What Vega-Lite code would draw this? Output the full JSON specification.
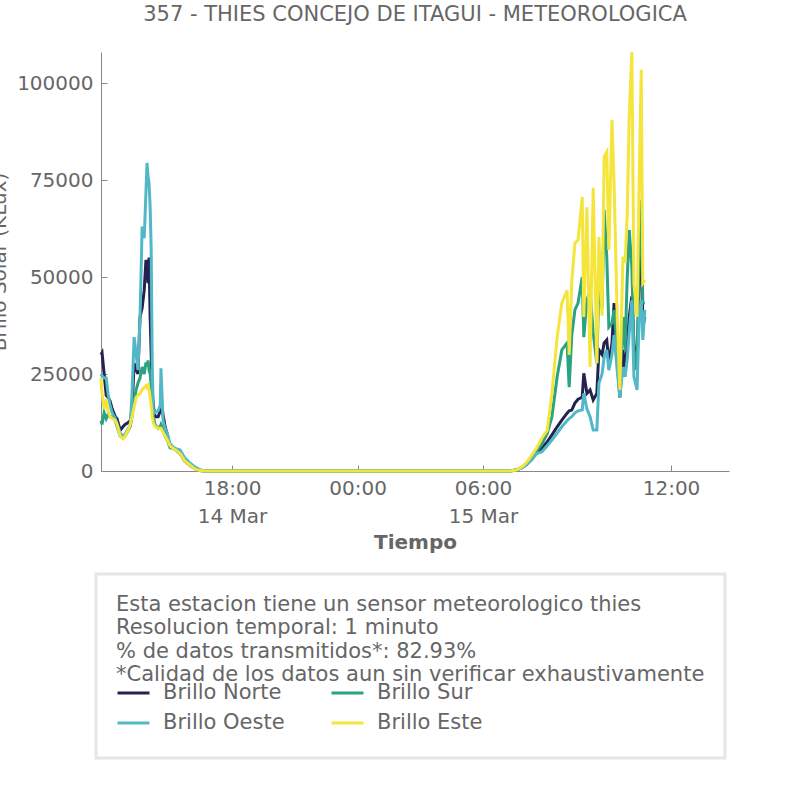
{
  "$schema": "https://vega.github.io/schema/vega-lite/v6.json",
  "width": 628,
  "height": 419,
  "autosize": {"type": "none"},
  "padding": {"left": 101, "top": 52, "right": 77, "bottom": 335},
  "background": "white",
  "title": {
    "text": "357 - THIES CONCEJO DE ITAGUI - METEOROLOGICA",
    "anchor": "middle",
    "baseline": "middle",
    "offset": 10,
    "font": "DejaVu Sans",
    "fontSize": 21,
    "fontWeight": "normal",
    "color": "#666666"
  },
  "data": {
    "format": {"parse": {"t": "utc:'%Y-%m-%dT%H:%M'"}},
    "values": [
      {"t": "2024-03-14T11:44", "Brillo Norte": 30000, "Brillo Sur": 13000, "Brillo Oeste": 25000, "Brillo Este": 24000},
      {"t": "2024-03-14T11:47", "Brillo Norte": 30500, "Brillo Sur": 12000, "Brillo Oeste": 24500, "Brillo Este": 20000},
      {"t": "2024-03-14T11:53", "Brillo Norte": 25000, "Brillo Sur": 15000, "Brillo Oeste": 24000, "Brillo Este": 16000},
      {"t": "2024-03-14T11:59", "Brillo Norte": 19500, "Brillo Sur": 13500, "Brillo Oeste": 24000, "Brillo Este": 18500},
      {"t": "2024-03-14T12:04", "Brillo Norte": 19000, "Brillo Sur": 14500, "Brillo Oeste": 20000, "Brillo Este": 15500},
      {"t": "2024-03-14T12:10", "Brillo Norte": 18000, "Brillo Sur": 14000, "Brillo Oeste": 17000, "Brillo Este": 14000},
      {"t": "2024-03-14T12:16", "Brillo Norte": 16000, "Brillo Sur": 14000, "Brillo Oeste": 15000, "Brillo Este": 13500},
      {"t": "2024-03-14T12:25", "Brillo Norte": 14000, "Brillo Sur": 13000, "Brillo Oeste": 13500, "Brillo Este": 13000},
      {"t": "2024-03-14T12:30", "Brillo Norte": 13500, "Brillo Sur": 11500, "Brillo Oeste": 12300, "Brillo Este": 12000},
      {"t": "2024-03-14T12:39", "Brillo Norte": 10500, "Brillo Sur": 9000, "Brillo Oeste": 9800, "Brillo Este": 9000},
      {"t": "2024-03-14T12:47", "Brillo Norte": 11400, "Brillo Sur": 8500, "Brillo Oeste": 9000, "Brillo Este": 8300},
      {"t": "2024-03-14T12:53", "Brillo Norte": 12000, "Brillo Sur": 9000, "Brillo Oeste": 9500, "Brillo Este": 9000},
      {"t": "2024-03-14T12:59", "Brillo Norte": 12300, "Brillo Sur": 10000, "Brillo Oeste": 10500, "Brillo Este": 10000},
      {"t": "2024-03-14T13:08", "Brillo Norte": 13000, "Brillo Sur": 11500, "Brillo Oeste": 12000, "Brillo Este": 12000},
      {"t": "2024-03-14T13:13", "Brillo Norte": 15700, "Brillo Sur": 14000, "Brillo Oeste": 20000, "Brillo Este": 14000},
      {"t": "2024-03-14T13:19", "Brillo Norte": 27800, "Brillo Sur": 18000, "Brillo Oeste": 34500, "Brillo Este": 16500},
      {"t": "2024-03-14T13:25", "Brillo Norte": 26000, "Brillo Sur": 21000, "Brillo Oeste": 30000, "Brillo Este": 19000},
      {"t": "2024-03-14T13:30", "Brillo Norte": 25000, "Brillo Sur": 22600, "Brillo Oeste": 26000, "Brillo Este": 19500},
      {"t": "2024-03-14T13:36", "Brillo Norte": 39700, "Brillo Sur": 24000, "Brillo Oeste": 39700, "Brillo Este": 20000},
      {"t": "2024-03-14T13:42", "Brillo Norte": 42000, "Brillo Sur": 26800, "Brillo Oeste": 63000, "Brillo Este": 21000},
      {"t": "2024-03-14T13:48", "Brillo Norte": 46600, "Brillo Sur": 25000, "Brillo Oeste": 60000, "Brillo Este": 21500},
      {"t": "2024-03-14T13:53", "Brillo Norte": 54400, "Brillo Sur": 28000, "Brillo Oeste": 72000, "Brillo Este": 22000},
      {"t": "2024-03-14T13:56", "Brillo Norte": 52000, "Brillo Sur": 27000, "Brillo Oeste": 79400, "Brillo Este": 21500},
      {"t": "2024-03-14T13:59", "Brillo Norte": 48400, "Brillo Sur": 28500, "Brillo Oeste": 76000, "Brillo Este": 22000},
      {"t": "2024-03-14T14:02", "Brillo Norte": 55000, "Brillo Sur": 26000, "Brillo Oeste": 74000, "Brillo Este": 21000},
      {"t": "2024-03-14T14:05", "Brillo Norte": 39700, "Brillo Sur": 25000, "Brillo Oeste": 68000, "Brillo Este": 19000},
      {"t": "2024-03-14T14:08", "Brillo Norte": 30000, "Brillo Sur": 22000, "Brillo Oeste": 57000, "Brillo Este": 17000},
      {"t": "2024-03-14T14:11", "Brillo Norte": 20900, "Brillo Sur": 18000, "Brillo Oeste": 27000, "Brillo Este": 14000},
      {"t": "2024-03-14T14:14", "Brillo Norte": 17000, "Brillo Sur": 14000, "Brillo Oeste": 15700, "Brillo Este": 12500},
      {"t": "2024-03-14T14:19", "Brillo Norte": 14000, "Brillo Sur": 12000, "Brillo Oeste": 15000, "Brillo Este": 11500},
      {"t": "2024-03-14T14:28", "Brillo Norte": 14000, "Brillo Sur": 11000, "Brillo Oeste": 15500, "Brillo Este": 11000},
      {"t": "2024-03-14T14:34", "Brillo Norte": 15500, "Brillo Sur": 11500, "Brillo Oeste": 17000, "Brillo Este": 11000},
      {"t": "2024-03-14T14:36", "Brillo Norte": 16500, "Brillo Sur": 12000, "Brillo Oeste": 26500, "Brillo Este": 11000},
      {"t": "2024-03-14T14:39", "Brillo Norte": 16500, "Brillo Sur": 11500, "Brillo Oeste": 20000, "Brillo Este": 10500},
      {"t": "2024-03-14T14:42", "Brillo Norte": 14500, "Brillo Sur": 10500, "Brillo Oeste": 13000, "Brillo Este": 10000},
      {"t": "2024-03-14T14:48", "Brillo Norte": 11400, "Brillo Sur": 9000, "Brillo Oeste": 11000, "Brillo Este": 9000},
      {"t": "2024-03-14T14:54", "Brillo Norte": 9500, "Brillo Sur": 8000, "Brillo Oeste": 9800, "Brillo Este": 8000},
      {"t": "2024-03-14T15:02", "Brillo Norte": 6500, "Brillo Sur": 6000, "Brillo Oeste": 7000, "Brillo Este": 6500},
      {"t": "2024-03-14T15:11", "Brillo Norte": 5800, "Brillo Sur": 5800, "Brillo Oeste": 6200, "Brillo Este": 5800},
      {"t": "2024-03-14T15:17", "Brillo Norte": 5600, "Brillo Sur": 5500, "Brillo Oeste": 5800, "Brillo Este": 5500},
      {"t": "2024-03-14T15:31", "Brillo Norte": 4500, "Brillo Sur": 4500, "Brillo Oeste": 5400, "Brillo Este": 4500},
      {"t": "2024-03-14T15:45", "Brillo Norte": 2500, "Brillo Sur": 2500, "Brillo Oeste": 3300, "Brillo Este": 2500},
      {"t": "2024-03-14T16:00", "Brillo Norte": 1500, "Brillo Sur": 1500, "Brillo Oeste": 2000, "Brillo Este": 1500},
      {"t": "2024-03-14T16:14", "Brillo Norte": 600, "Brillo Sur": 600, "Brillo Oeste": 1000, "Brillo Este": 500},
      {"t": "2024-03-14T16:28", "Brillo Norte": 150, "Brillo Sur": 150, "Brillo Oeste": 300, "Brillo Este": 100},
      {"t": "2024-03-14T16:43", "Brillo Norte": 0, "Brillo Sur": 0, "Brillo Oeste": 0, "Brillo Este": 0},
      {"t": "2024-03-14T21:15", "Brillo Norte": 0, "Brillo Sur": 0, "Brillo Oeste": 0, "Brillo Este": 0},
      {"t": "2024-03-15T02:02", "Brillo Norte": 0, "Brillo Sur": 0, "Brillo Oeste": 0, "Brillo Este": 0},
      {"t": "2024-03-15T06:00", "Brillo Norte": 0, "Brillo Sur": 0, "Brillo Oeste": 0, "Brillo Este": 0},
      {"t": "2024-03-15T06:52", "Brillo Norte": 0, "Brillo Sur": 0, "Brillo Oeste": 0, "Brillo Este": 0},
      {"t": "2024-03-15T07:05", "Brillo Norte": 300, "Brillo Sur": 300, "Brillo Oeste": 300, "Brillo Este": 300},
      {"t": "2024-03-15T07:15", "Brillo Norte": 900, "Brillo Sur": 1000, "Brillo Oeste": 800, "Brillo Este": 1100},
      {"t": "2024-03-15T07:24", "Brillo Norte": 1800, "Brillo Sur": 2000, "Brillo Oeste": 1700, "Brillo Este": 2300},
      {"t": "2024-03-15T07:34", "Brillo Norte": 3200, "Brillo Sur": 3500, "Brillo Oeste": 3000, "Brillo Este": 4200},
      {"t": "2024-03-15T07:43", "Brillo Norte": 4800, "Brillo Sur": 5200, "Brillo Oeste": 4500, "Brillo Este": 6000},
      {"t": "2024-03-15T07:53", "Brillo Norte": 6000, "Brillo Sur": 7000, "Brillo Oeste": 5000, "Brillo Este": 8500},
      {"t": "2024-03-15T08:03", "Brillo Norte": 7500, "Brillo Sur": 9700, "Brillo Oeste": 6500, "Brillo Este": 10500},
      {"t": "2024-03-15T08:12", "Brillo Norte": 9300, "Brillo Sur": 14000, "Brillo Oeste": 8000, "Brillo Este": 20000},
      {"t": "2024-03-15T08:22", "Brillo Norte": 11400, "Brillo Sur": 24300, "Brillo Oeste": 9800, "Brillo Este": 34500},
      {"t": "2024-03-15T08:31", "Brillo Norte": 13100, "Brillo Sur": 31200, "Brillo Oeste": 11400, "Brillo Este": 43300},
      {"t": "2024-03-15T08:41", "Brillo Norte": 14900, "Brillo Sur": 33000, "Brillo Oeste": 13000, "Brillo Este": 46600},
      {"t": "2024-03-15T08:45", "Brillo Norte": 15500, "Brillo Sur": 21600, "Brillo Oeste": 13500, "Brillo Este": 30000},
      {"t": "2024-03-15T08:50", "Brillo Norte": 15700, "Brillo Sur": 35000, "Brillo Oeste": 14000, "Brillo Este": 49000},
      {"t": "2024-03-15T08:56", "Brillo Norte": 17500, "Brillo Sur": 41500, "Brillo Oeste": 15000, "Brillo Este": 58700},
      {"t": "2024-03-15T09:02", "Brillo Norte": 18500, "Brillo Sur": 43300, "Brillo Oeste": 15500, "Brillo Este": 59500},
      {"t": "2024-03-15T09:10", "Brillo Norte": 19000, "Brillo Sur": 50000, "Brillo Oeste": 15700, "Brillo Este": 70600},
      {"t": "2024-03-15T09:13", "Brillo Norte": 25200, "Brillo Sur": 34500, "Brillo Oeste": 20000, "Brillo Este": 39700},
      {"t": "2024-03-15T09:19", "Brillo Norte": 20000, "Brillo Sur": 44000, "Brillo Oeste": 16000, "Brillo Este": 68000},
      {"t": "2024-03-15T09:25", "Brillo Norte": 20900, "Brillo Sur": 46600, "Brillo Oeste": 14000, "Brillo Este": 26800},
      {"t": "2024-03-15T09:31", "Brillo Norte": 18300, "Brillo Sur": 35600, "Brillo Oeste": 10600, "Brillo Este": 73000},
      {"t": "2024-03-15T09:38", "Brillo Norte": 20000, "Brillo Sur": 27800, "Brillo Oeste": 10600, "Brillo Este": 27800},
      {"t": "2024-03-15T09:42", "Brillo Norte": 31200, "Brillo Sur": 48400, "Brillo Oeste": 22700, "Brillo Este": 60300},
      {"t": "2024-03-15T09:48", "Brillo Norte": 30000, "Brillo Sur": 42000, "Brillo Oeste": 25000, "Brillo Este": 40000},
      {"t": "2024-03-15T09:52", "Brillo Norte": 33000, "Brillo Sur": 67300, "Brillo Oeste": 29400, "Brillo Este": 81000},
      {"t": "2024-03-15T09:57", "Brillo Norte": 33800, "Brillo Sur": 55200, "Brillo Oeste": 31200, "Brillo Este": 82200},
      {"t": "2024-03-15T10:01", "Brillo Norte": 27800, "Brillo Sur": 37100, "Brillo Oeste": 26000, "Brillo Este": 57000},
      {"t": "2024-03-15T10:07", "Brillo Norte": 33000, "Brillo Sur": 38100, "Brillo Oeste": 30000, "Brillo Este": 90500},
      {"t": "2024-03-15T10:11", "Brillo Norte": 43300, "Brillo Sur": 41500, "Brillo Oeste": 35000, "Brillo Este": 74200},
      {"t": "2024-03-15T10:17", "Brillo Norte": 28600, "Brillo Sur": 31200, "Brillo Oeste": 26000, "Brillo Este": 39700},
      {"t": "2024-03-15T10:22", "Brillo Norte": 19000, "Brillo Sur": 22700, "Brillo Oeste": 19000, "Brillo Este": 20900},
      {"t": "2024-03-15T10:28", "Brillo Norte": 31200, "Brillo Sur": 39700, "Brillo Oeste": 26800, "Brillo Este": 55200},
      {"t": "2024-03-15T10:32", "Brillo Norte": 26000, "Brillo Sur": 31200, "Brillo Oeste": 24300, "Brillo Este": 53600},
      {"t": "2024-03-15T10:36", "Brillo Norte": 32000, "Brillo Sur": 49200, "Brillo Oeste": 28600, "Brillo Este": 65500},
      {"t": "2024-03-15T10:40", "Brillo Norte": 39700, "Brillo Sur": 62100, "Brillo Oeste": 35600, "Brillo Este": 91200},
      {"t": "2024-03-15T10:45", "Brillo Norte": 45000, "Brillo Sur": 52600, "Brillo Oeste": 44000, "Brillo Este": 108000},
      {"t": "2024-03-15T10:49", "Brillo Norte": 33000, "Brillo Sur": 31200, "Brillo Oeste": 24300, "Brillo Este": 48400},
      {"t": "2024-03-15T10:55", "Brillo Norte": 26000, "Brillo Sur": 26000, "Brillo Oeste": 20900, "Brillo Este": 39700},
      {"t": "2024-03-15T10:59", "Brillo Norte": 48400, "Brillo Sur": 57000, "Brillo Oeste": 39700, "Brillo Este": 74200},
      {"t": "2024-03-15T11:03", "Brillo Norte": 69800, "Brillo Sur": 69800, "Brillo Oeste": 44000, "Brillo Este": 103400},
      {"t": "2024-03-15T11:06", "Brillo Norte": 37100, "Brillo Sur": 43300, "Brillo Oeste": 33800, "Brillo Este": 48400},
      {"t": "2024-03-15T11:10", "Brillo Norte": 39700, "Brillo Sur": 43300, "Brillo Oeste": 41500, "Brillo Este": 49200}
    ]
  },
  "transform": [
    {"fold": ["Brillo Norte", "Brillo Sur", "Brillo Oeste", "Brillo Este"], "as": ["serie", "valor"]}
  ],
  "mark": {"type": "line", "strokeWidth": 3},
  "encoding": {
    "x": {
      "field": "t",
      "type": "quantitative",
      "scale": {
        "domain": [1710416640000, 1710482400000, 1710504000000, 1710510660000],
        "range": [0, 382, 570, 628],
        "nice": false,
        "zero": false
      },
      "axis": {
        "values": [1710439200000, 1710460800000, 1710482400000, 1710504000000],
        "labelExpr": "(utchours(datum.value) == 18 || utchours(datum.value) == 6) ? [utcFormat(datum.value, '%H:%M'), utcFormat(datum.value, '%-d %b')] : utcFormat(datum.value, '%H:%M')",
        "labelLineHeight": 28,
        "labelPadding": 13,
        "labelFlush": false,
        "labelOverlap": false,
        "title": "Tiempo",
        "titleFontWeight": "bold",
        "titleBaseline": "middle",
        "titleY": 71
      }
    },
    "y": {
      "field": "valor",
      "type": "quantitative",
      "scale": {"domain": [0, 108000], "nice": false},
      "axis": {
        "values": [0, 25000, 50000, 75000, 100000],
        "format": "d",
        "labelPadding": 14,
        "title": "Brillo Solar (KLux)",
        "titleAngle": -90,
        "titleX": -95.5,
        "titleY": 209.5,
        "titleAlign": "center",
        "titleBaseline": "alphabetic",
        "titleFontWeight": "normal"
      }
    },
    "color": {
      "field": "serie",
      "type": "nominal",
      "scale": {
        "domain": ["Brillo Norte", "Brillo Sur", "Brillo Oeste", "Brillo Este"],
        "range": ["#24234f", "#2aa383", "#52b8c8", "#f5e53a"]
      },
      "legend": {
        "orient": "none",
        "legendX": -5,
        "legendY": 522,
        "direction": "horizontal",
        "columns": 2,
        "title": [
          "Esta estacion tiene un sensor meteorologico thies",
          "Resolucion temporal: 1 minuto",
          "% de datos transmitidos*: 82.93%",
          "*Calidad de los datos aun sin verificar exhaustivamente"
        ]
      }
    }
  },
  "config": {
    "view": {"stroke": null},
    "font": "DejaVu Sans",
    "axis": {
      "domainColor": "#888888",
      "tickColor": "#888888",
      "tickSize": -6,
      "labelColor": "#666666",
      "titleColor": "#666666",
      "labelFont": "DejaVu Sans",
      "titleFont": "DejaVu Sans",
      "labelFontSize": 20,
      "titleFontSize": 20,
      "grid": false
    },
    "legend": {
      "titleFont": "DejaVu Sans",
      "titleFontSize": 21,
      "titleFontWeight": "normal",
      "titleColor": "#666666",
      "titleLineHeight": 23.3,
      "titleLimit": 900,
      "titlePadding": -7,
      "labelFont": "DejaVu Sans",
      "labelFontSize": 21,
      "labelColor": "#666666",
      "labelLimit": 400,
      "labelOffset": 12,
      "symbolType": "stroke",
      "symbolSize": 1024,
      "symbolStrokeWidth": 3,
      "clipHeight": 30,
      "rowPadding": 0,
      "columnPadding": 45,
      "padding": 20,
      "fillColor": "white",
      "strokeColor": "#e6e6e6",
      "strokeWidth": 3
    }
  }
}
